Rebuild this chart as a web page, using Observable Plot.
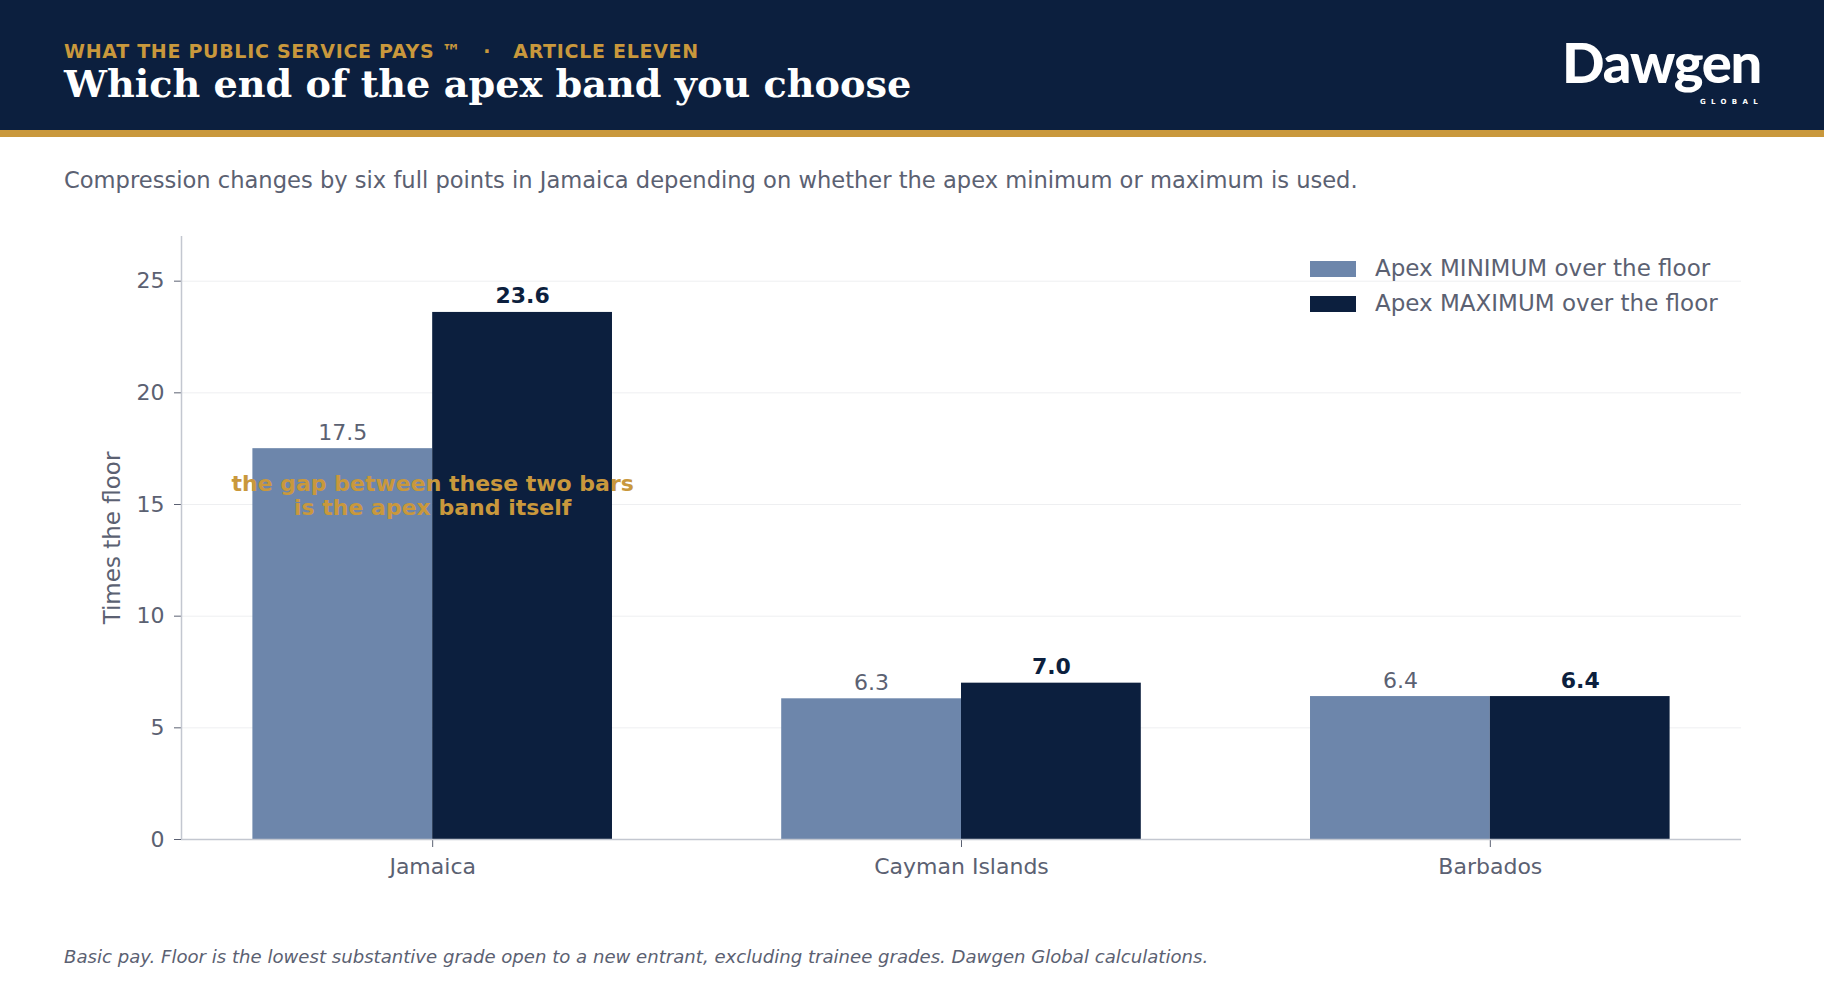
<!DOCTYPE html>
<html>
<head>
<meta charset="utf-8">
<script src="https://cdn.jsdelivr.net/npm/d3@7"></script>
<script src="https://cdn.jsdelivr.net/npm/@observablehq/plot@0.6"></script>
<style>
  html, body { margin: 0; padding: 0; background: #ffffff; }
  #page { position: relative; width: 1824px; height: 988px; overflow: hidden; background: #fff; font-family: "DejaVu Sans", sans-serif; }
  #header { position: absolute; left: 0; top: 0; width: 1824px; height: 130px; background: #0c1f3e; }
  #stripe { position: absolute; left: 0; top: 130px; width: 1824px; height: 7px; background: #c9983c; }
  .abs { position: absolute; white-space: nowrap; line-height: 1; }
  #kicker { left: 64px; top: 42px; font-size: 19px; font-weight: bold; color: #c9983c; letter-spacing: 0.7px; }
  #title { left: 64px; top: 65px; font-family: "DejaVu Serif", serif; font-weight: bold; font-size: 38.2px; color: #ffffff; }
  #subtitle { left: 64px; top: 169px; font-size: 22.6px; color: #5b6172; }
  #caption { left: 64px; top: 948px; font-size: 18.1px; font-style: italic; color: #5b6172; }
  #ylabel { left: 112px; top: 538px; font-size: 23px; color: #5b6172; transform: translate(-50%, -50%) rotate(-90deg); }
  #chart { position: absolute; left: 0; top: 210px; }
  .leg { position: absolute; font-size: 23px; color: #5b6172; white-space: nowrap; line-height: 1; }
  .sw { position: absolute; width: 46px; height: 16px; }
  #logo-word { position: absolute; left: 1562px; top: 34px; font-family: "Lato", "DejaVu Sans", sans-serif; font-weight: 900; font-size: 56px; letter-spacing: -1.2px; line-height: 1; color: #fff; white-space: nowrap; }
  #logo-glob { position: absolute; left: 1700px; top: 99px; font-family: "DejaVu Sans", sans-serif; font-weight: bold; font-size: 7px; letter-spacing: 5.3px; line-height: 1; color: #fff; white-space: nowrap; }
  #chart svg text { font-family: "DejaVu Sans", sans-serif; }
</style>
</head>
<body>
<div id="page">
  <div id="header"></div>
  <div id="stripe"></div>
  <div id="kicker" class="abs">WHAT THE PUBLIC SERVICE PAYS ™ &nbsp; · &nbsp; ARTICLE ELEVEN</div>
  <div id="title" class="abs">Which end of the apex band you choose</div>
  <div id="logo-word">Dawgen</div>
  <div id="logo-glob">GLOBAL</div>
  <div id="subtitle" class="abs">Compression changes by six full points in Jamaica depending on whether the apex minimum or maximum is used.</div>
  <div id="chart"></div>
  <div id="ylabel" class="abs">Times the floor</div>
  <div id="legend"></div>
  <div id="caption" class="abs">Basic pay. Floor is the lowest substantive grade open to a new entrant, excluding trainee grades. Dawgen Global calculations.</div>
</div>
<script>
const countries = ["Jamaica", "Cayman Islands", "Barbados"];
const apexMin = [17.5, 6.3, 6.4];
const apexMax = [23.6, 7.0, 6.4];
const seriesLabels = ["Apex MINIMUM over the floor", "Apex MAXIMUM over the floor"];
const yTicks = [0, 5, 10, 15, 20, 25];
const annotationText = "the gap between these two bars\nis the apex band itself";
const annotationY = 15.4;

const NAVY = "#0c1f3e", LIGHT = "#6d86ab", GOLD = "#c9983c", GRAY = "#5b6172";
const HALF = 0.34;

const rows = countries.flatMap((c, i) => [
  {country: c, i, series: seriesLabels[0], value: apexMin[i], x1: i - HALF, x2: i},
  {country: c, i, series: seriesLabels[1], value: apexMax[i], x1: i, x2: i + HALF}
]);
const minRows = rows.filter(d => d.series === seriesLabels[0]);
const maxRows = rows.filter(d => d.series === seriesLabels[1]);

const chart = Plot.plot({
  width: 1824,
  height: 690,
  marginLeft: 181,
  marginRight: 83,
  marginTop: 26,
  marginBottom: 61,
  style: {color: GRAY, fontSize: "22px", fontFamily: "DejaVu Sans", background: "transparent"},
  x: {type: "linear", domain: [-0.475, 2.475], ticks: countries.map((c, i) => i), tickFormat: i => countries[i], tickSize: 8, tickPadding: 11, label: null},
  y: {domain: [0, 27], ticks: yTicks, grid: true, tickSize: 7, tickPadding: 10, label: null},
  marks: [
    Plot.rectY(minRows, {x1: "x1", x2: "x2", y1: 0, y2: "value", fill: LIGHT}),
    Plot.rectY(maxRows, {x1: "x1", x2: "x2", y1: 0, y2: "value", fill: NAVY}),
    Plot.ruleX([-0.475], {stroke: "#c3c7d0", strokeWidth: 1.5}),
    Plot.ruleY([0], {stroke: "#c3c7d0", strokeWidth: 1.5}),
    Plot.text(minRows, {x: d => (d.x1 + d.x2) / 2, y: "value", text: d => d.value.toFixed(1), lineAnchor: "bottom", dy: -9, fill: GRAY, fontSize: 22}),
    Plot.text(maxRows, {x: d => (d.x1 + d.x2) / 2, y: "value", text: d => d.value.toFixed(1), lineAnchor: "bottom", dy: -9, fill: NAVY, fontSize: 22, fontWeight: "bold"}),
    Plot.text([annotationText], {x: 0, y: annotationY, text: d => d, fill: GOLD, fontSize: 22, fontWeight: "bold", lineHeight: 1.06, textAnchor: "middle", lineAnchor: "middle"})
  ]
});
document.getElementById("chart").appendChild(chart);

const legend = document.getElementById("legend");
const legColors = [LIGHT, NAVY];
seriesLabels.forEach((s, k) => {
  const cy = 268.8 + k * 35;
  const sw = document.createElement("div");
  sw.className = "sw";
  sw.style.left = "1310px";
  sw.style.top = (cy - 8) + "px";
  sw.style.background = legColors[k];
  legend.appendChild(sw);
  const t = document.createElement("div");
  t.className = "leg";
  t.style.left = "1375px";
  t.style.top = (cy - 12) + "px";
  t.textContent = s;
  legend.appendChild(t);
});
</script>
</body>
</html>
